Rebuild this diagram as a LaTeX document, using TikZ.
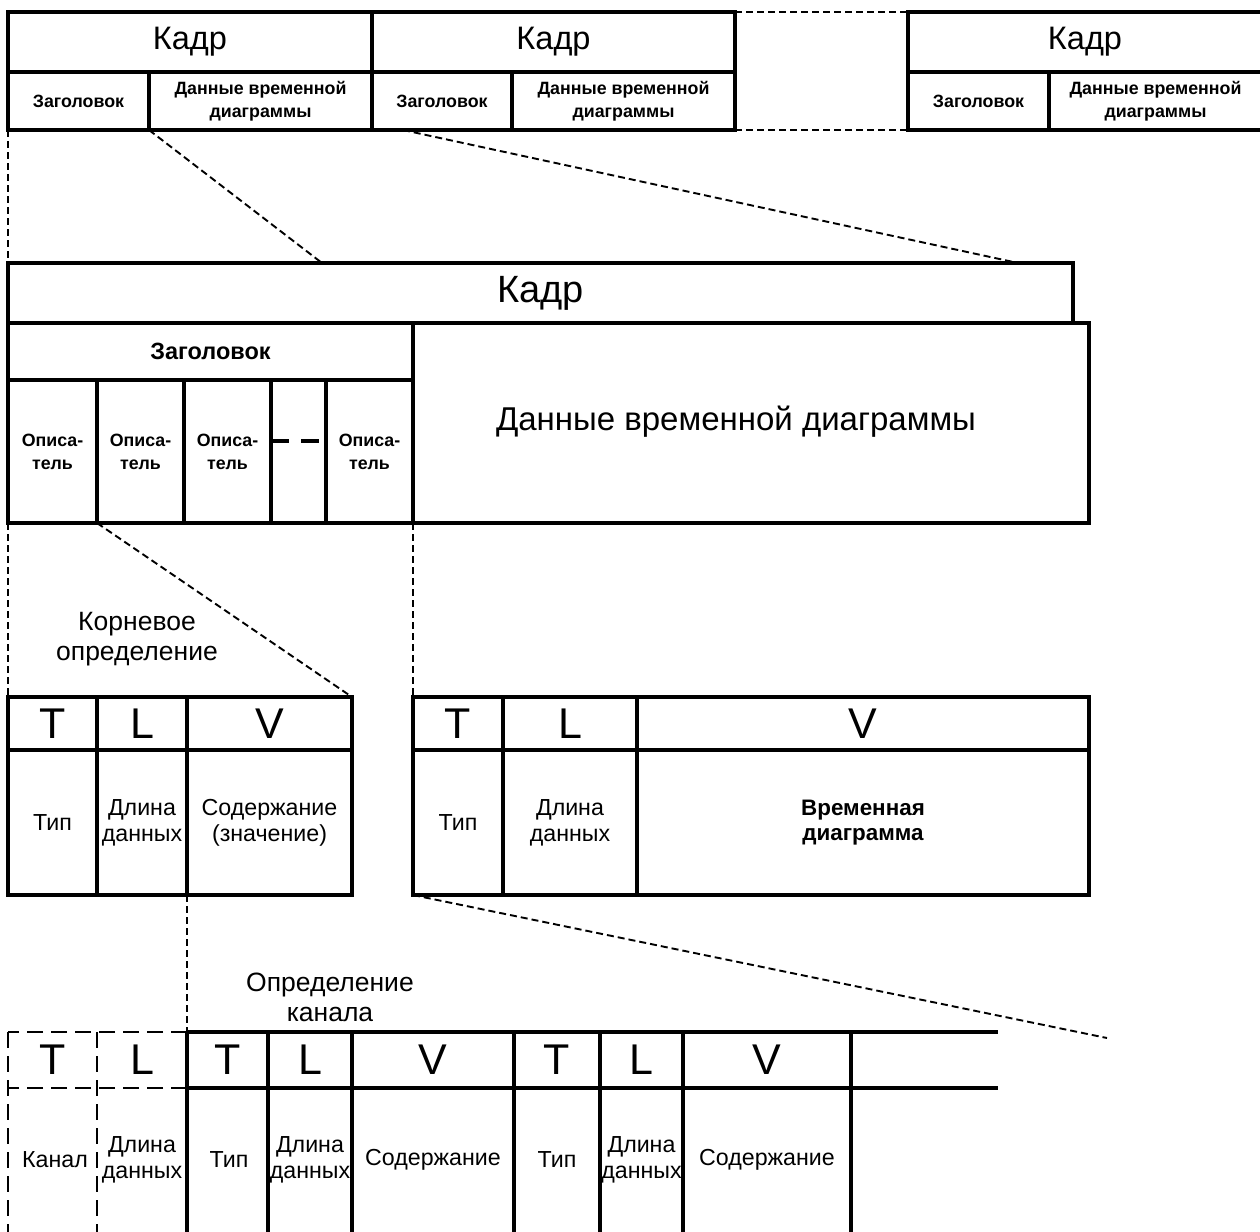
\documentclass[tikz,border=0pt]{standalone}
\usepackage{fontspec}
\setmainfont{Liberation Sans}
\newcommand{\cellbox}[7][]{%
  \pgfmathsetlengthmacro\mycellw{(#5-#3)*1pt}%
  \pgfmathsetlengthmacro\mycellh{(#6-#4)*1pt}%
  \node[cell,minimum width=\mycellw,minimum height=\mycellh,#1] (#2) at (#3,#4) {#7};}
\tikzset{
  cell/.style={draw, line width=3.4pt, inner sep=0pt, outer sep=0pt, anchor=north west, align=center},
  conn/.style={line width=1.9pt, dash pattern=on 7pt off 4pt},
  dcell/.style={line width=2.8pt, dash pattern=on 16pt off 8pt},
  sline/.style={line width=3.4pt},
  lbl/.style={inner sep=0pt, align=center},
  fK/.style={font=\fontsize{32.5}{36}\selectfont},
  fKbig/.style={font=\fontsize{38}{42}\selectfont},
  fs/.style={font=\bfseries\fontsize{17.8}{23}\selectfont},
  fz/.style={font=\bfseries\fontsize{23.5}{27}\selectfont},
  fbody/.style={font=\fontsize{23.2}{26}\selectfont},
  fTLV/.style={font=\fontsize{43}{46}\selectfont},
  fdata/.style={font=\fontsize{33}{38}\selectfont},
  flbl/.style={font=\fontsize{26.5}{30}\selectfont},
  fvr/.style={font=\bfseries\fontsize{22.4}{25}\selectfont},
}
\begin{document}
\begin{tikzpicture}[x=1pt,y=-1pt]
\useasboundingbox (0,0) rectangle (1260,1231);
\clip (0,0) rectangle (1260,1231);
\fill[white] (0,0) rectangle (1260,1231);
% ---- top row of frames
\cellbox[fK]{f1}{8}{12}{372}{72}{Кадр}
\cellbox[fs]{f1h}{8}{72}{149}{130}{Заголовок}
\cellbox[fs]{f1d}{149}{72}{372}{130}{Данные временной\\диаграммы}
\cellbox[fK]{f2}{372}{12}{735}{72}{Кадр}
\cellbox[fs]{f2h}{372}{72}{512}{130}{Заголовок}
\cellbox[fs]{f2d}{512}{72}{735}{130}{Данные временной\\диаграммы}
\cellbox[fK]{f3}{908}{12}{1262}{72}{Кадр}
\cellbox[fs]{f3h}{908}{72}{1049}{130}{Заголовок}
\cellbox[fs]{f3d}{1049}{72}{1262}{130}{Данные временной\\диаграммы}
\draw[conn] (f2.north east) -- (f3.north west);
\draw[conn] (f2d.south east) -- (f3h.south west);
% ---- expanded frame
\cellbox[fKbig]{kadr}{8}{263}{1073}{323}{Кадр}
\cellbox[fz]{zag}{8}{323}{413}{380}{Заголовок}
\cellbox[fs]{d1}{8}{380}{97}{523}{Описа-\\тель}
\cellbox[fs]{d2}{97}{380}{184}{523}{Описа-\\тель}
\cellbox[fs]{d3}{184}{380}{271}{523}{Описа-\\тель}
\cellbox{d4}{271}{380}{326}{523}{}
\cellbox[fs]{d5}{326}{380}{413}{523}{Описа-\\тель}
\cellbox{data}{413}{323}{1089}{523}{}
\node[lbl,fdata] (datatext) at (736,422) {Данные временной диаграммы};
\coordinate (dotsL) at (271,441);
\coordinate (dotsR) at (319,441);
\draw[line width=3.4pt, dash pattern=on 18pt off 12pt] (dotsL) -- (dotsR);
\coordinate (k1) at (322,263);
\coordinate (k2) at (1018,263);
\coordinate (f2s) at (403,130);
\draw[conn] (f1h.south west) -- (kadr.north west);
\draw[conn] (f1d.south west) -- (k1);
\draw[conn] (f2s) -- (k2);
% ---- root definition TLV
\cellbox[fTLV]{rT}{8}{697}{97}{750}{T}
\cellbox[fTLV]{rL}{97}{697}{187}{750}{L}
\cellbox[fTLV]{rV}{187}{697}{352}{750}{V}
\cellbox[fbody]{rt}{8}{750}{97}{895}{Тип}
\cellbox[fbody]{rl}{97}{750}{187}{895}{Длина\\данных}
\cellbox[fbody]{rv}{187}{750}{352}{895}{Содержание\\(значение)}
\node[lbl,flbl] (root) at (137,639) {Корневое\\определение};
\draw[conn] (d1.south west) -- (rT.north west);
\draw[conn] (d2.south west) -- (rV.north east);
% ---- timing TLV
\cellbox[fTLV]{tT}{413}{697}{503}{750}{T}
\cellbox[fTLV]{tL}{503}{697}{637}{750}{L}
\cellbox[fTLV]{tV}{637}{697}{1089}{750}{V}
\cellbox[fbody]{tt}{413}{750}{503}{895}{Тип}
\cellbox[fbody]{tl}{503}{750}{637}{895}{Длина\\данных}
\cellbox[fvr]{tv}{637}{750}{1089}{895}{Временная\\диаграмма}
\draw[conn] (d5.south east) -- (tT.north west);
\coordinate (tend) at (1107,1038);
\draw[conn] (tt.south west) -- (tend);
% ---- channel definition
\node[lbl,flbl] (chan) at (330,997) {Определение\\канала};
\coordinate (b0t) at (8,1032);   \coordinate (b0m) at (8,1088);   \coordinate (b0b) at (8,1240);
\coordinate (b1t) at (97,1032);  \coordinate (b1b) at (97,1240);
\coordinate (b2t) at (187,1032); \coordinate (b2m) at (187,1088); \coordinate (b2b) at (187,1240);
\coordinate (b3t) at (268,1032); \coordinate (b3b) at (268,1240);
\coordinate (b4t) at (352,1032); \coordinate (b4b) at (352,1240);
\coordinate (b5t) at (514,1032); \coordinate (b5b) at (514,1240);
\coordinate (b6t) at (600,1032); \coordinate (b6b) at (600,1240);
\coordinate (b7t) at (683,1032); \coordinate (b7b) at (683,1240);
\coordinate (b8t) at (851,1032); \coordinate (b8b) at (851,1240);
\coordinate (bet) at (998,1032); \coordinate (bem) at (998,1088);
\draw[conn] (rl.south east) -- (b2t);
\draw[dcell] (b2t) -- (b0t);
\draw[dcell] (b2m) -- (b0m);
\draw[dcell] (b0t) -- (b0b);
\draw[dcell] (b1t) -- (b1b);
\draw[sline] (b2t) -- (bet);
\draw[sline] (b2m) -- (bem);
\foreach \c in {b2,b3,b4,b5,b6,b7,b8} \draw[sline] (\c t) -- (\c b);
\node[lbl,fTLV] (cT1) at (52.5,1060) {T};
\node[lbl,fTLV] (cL1) at (142,1060) {L};
\node[lbl,fTLV] (cT2) at (227.5,1060) {T};
\node[lbl,fTLV] (cL2) at (310,1060) {L};
\node[lbl,fTLV] (cV2) at (433,1060) {V};
\node[lbl,fTLV] (cT3) at (557,1060) {T};
\node[lbl,fTLV] (cL3) at (641.5,1060) {L};
\node[lbl,fTLV] (cV3) at (767,1060) {V};
\node[lbl,fbody] (ck) at (55,1160) {Канал};
\node[lbl,fbody] (cl1) at (142,1160) {Длина\\данных};
\node[lbl,fbody] (ct2) at (229,1160) {Тип};
\node[lbl,fbody] (cl2) at (310,1160) {Длина\\данных};
\node[lbl,fbody] (cv2) at (433,1160) {Содержание};
\node[lbl,fbody] (ct3) at (557,1160) {Тип};
\node[lbl,fbody] (cl3) at (641.5,1160) {Длина\\данных};
\node[lbl,fbody] (cv3) at (767,1160) {Содержание};
\end{tikzpicture}
\end{document}
